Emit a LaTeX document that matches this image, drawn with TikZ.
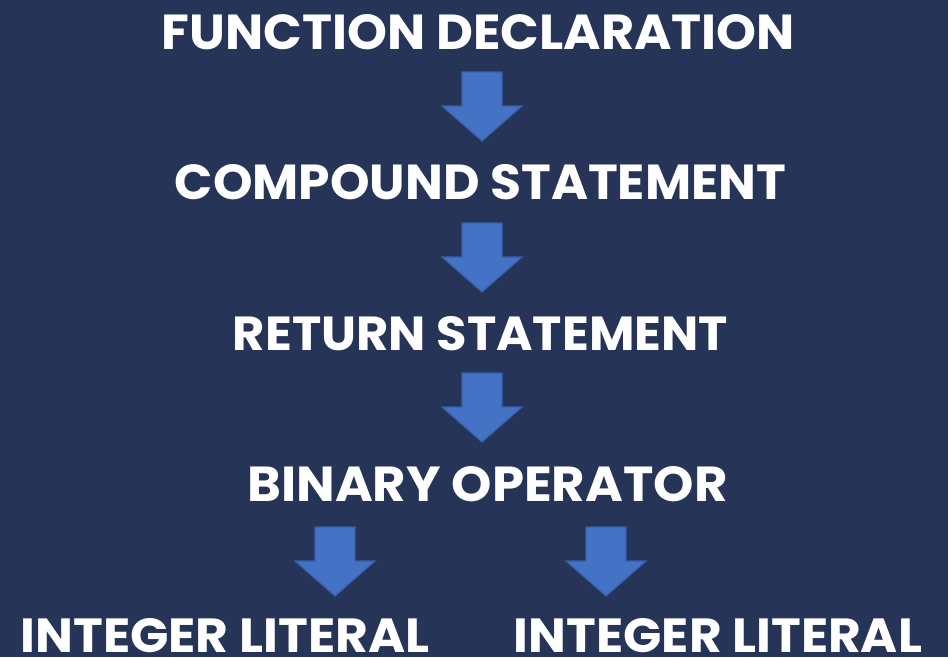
\documentclass[tikz,border=0pt]{standalone}
\usepackage{fontspec}
\setmainfont{Poppins}
\usepackage{graphicx}
\definecolor{bg}{RGB}{38,52,88}
\definecolor{arrowfill}{RGB}{68,114,196}
\definecolor{arrowline}{RGB}{56,96,170}
\tikzset{
  lbl/.style={inner sep=0pt, outer sep=0pt, text=white, font=\bfseries},
  blockarrow/.style={fill=arrowfill, draw=arrowline, line width=1.2pt, line join=miter},
}
% #1 = centre x, #2 = top y
\newcommand{\downarrowshape}[2]{%
  \draw[blockarrow] (#1-20,#2) -- (#1+20,#2) -- (#1+20,#2+34) -- (#1+40,#2+34)
    -- (#1,#2+69) -- (#1-40,#2+34) -- (#1-20,#2+34) -- cycle;}
\begin{document}
\begin{tikzpicture}[x=1pt,y=-1pt]
  \fill[bg] (0,0) rectangle (948,657);
  \useasboundingbox (0,0) rectangle (948,657);
  \node[lbl] (fd) at (478.5,32.5) {\resizebox{633pt}{35pt}{FUNCTION DECLARATION}};
  \node[lbl] (cs) at (480.5,182.5) {\resizebox{611pt}{35pt}{COMPOUND STATEMENT}};
  \node[lbl] (rs) at (480.5,334) {\resizebox{495pt}{34pt}{RETURN STATEMENT}};
  \node[lbl] (bo) at (487.5,484.5) {\resizebox{480pt}{35pt}{BINARY OPERATOR}};
  \node[lbl] (il1) at (225,636) {\resizebox{409pt}{34pt}{INTEGER LITERAL}};
  \node[lbl] (il2) at (718,636) {\resizebox{408pt}{34pt}{INTEGER LITERAL}};
  \downarrowshape{482}{72}
  \downarrowshape{482}{223}
  \downarrowshape{482}{373}
  \downarrowshape{335}{527}
  \downarrowshape{606}{527}
\end{tikzpicture}
\end{document}
